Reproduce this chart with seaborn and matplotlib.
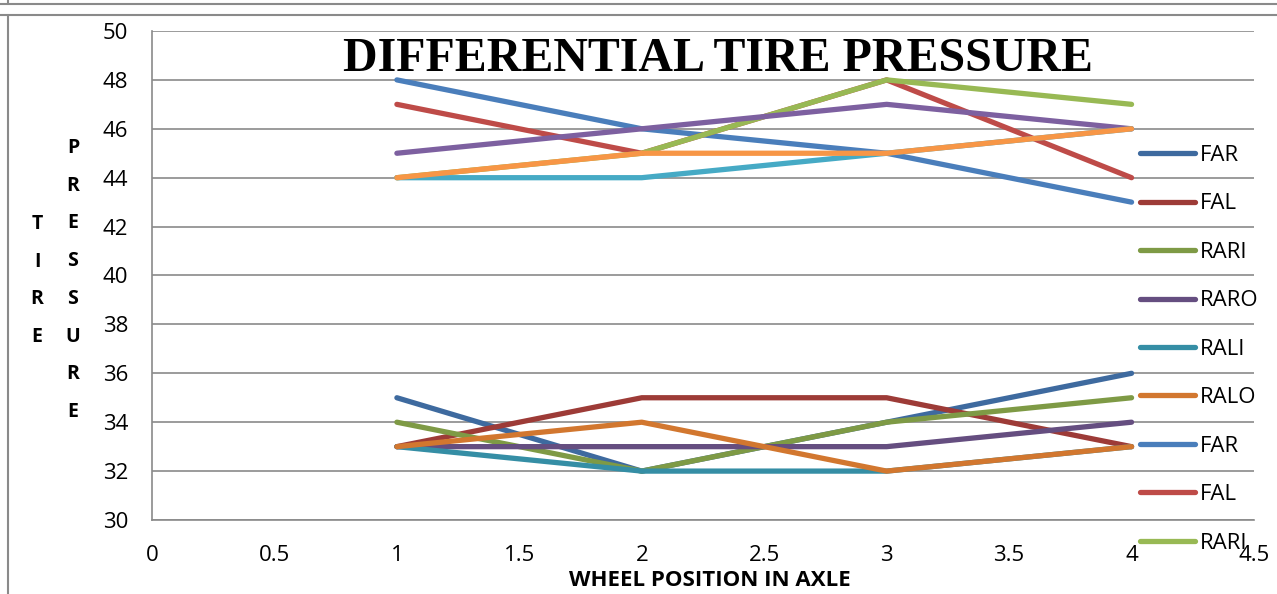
import matplotlib
matplotlib.use("Agg")
import matplotlib.pyplot as plt
import seaborn as sns
import pandas as pd
from matplotlib.lines import Line2D

sns.set_theme(style="white")
plt.rcParams['font.family'] = ['Open Sans', 'DejaVu Sans']
plt.rcParams['text.color'] = 'black'

positions = [1, 2, 3, 4]
series_names = ["FAR", "FAL", "RARI", "RARO", "RALI", "RALO",
                "FAR", "FAL", "RARI", "RARO", "RALI", "RALO"]
far_front = [35, 32, 34, 36]
fal_front = [33, 35, 35, 33]
rari_front = [34, 32, 34, 35]
raro_front = [33, 33, 33, 34]
rali_front = [33, 32, 32, 33]
ralo_front = [33, 34, 32, 33]
far_rear = [48, 46, 45, 43]
fal_rear = [47, 45, 48, 44]
rari_rear = [44, 45, 48, 47]
raro_rear = [45, 46, 47, 46]
rali_rear = [44, 44, 45, 46]
ralo_rear = [44, 45, 45, 46]
values = [far_front, fal_front, rari_front, raro_front, rali_front, ralo_front,
          far_rear, fal_rear, rari_rear, raro_rear, rali_rear, ralo_rear]
colors = ['#3E6A9F', '#9D3B37', '#7E9A45', '#654E80', '#358EA5', '#D2772F',
          '#4A7EBB', '#BE4B48', '#98B954', '#7D60A0', '#46AAC5', '#F79646']

fig = plt.figure(figsize=(12.77, 5.94), dpi=100)
ax = fig.add_axes([152/1277, 1-520/594, (1254-152)/1277, (520-31)/594])

for name, vals, c in zip(series_names, values, colors):
    df = pd.DataFrame({"x": positions, "y": vals})
    sns.lineplot(data=df, x="x", y="y", color=c, linewidth=3.8, label=name,
                 ax=ax, solid_capstyle='round', solid_joinstyle='round')

ax.set_xlim(0, 4.5)
ax.set_ylim(30, 50)
ax.set_xticks([0, 0.5, 1, 1.5, 2, 2.5, 3, 3.5, 4, 4.5])
ax.set_xticklabels(["0", "0.5", "1", "1.5", "2", "2.5", "3", "3.5", "4", "4.5"])
ax.set_yticks(range(30, 51, 2))
ax.yaxis.grid(True, color='#8a8a8a', linewidth=1.2)
ax.xaxis.grid(False)
for s in ['top', 'right']:
    ax.spines[s].set_visible(False)
for s in ['left', 'bottom']:
    ax.spines[s].set_color('#8a8a8a')
    ax.spines[s].set_linewidth(1.2)
ax.tick_params(axis='both', which='major', labelsize=16, colors='#8a8a8a',
               labelcolor='black', length=6, width=1.2, direction='out')
ax.tick_params(axis='y', pad=11)
ax.tick_params(axis='x', pad=12)
ax.set_xlabel("")
ax.set_ylabel("")

fig.text(718/1277, 1-59/594, "DIFFERENTIAL TIRE PRESSURE",
         ha='center', va='center', fontsize=34.5, fontweight='bold', color='black',
         family=['Liberation Serif', 'DejaVu Serif'])

fig.text(710/1277, 1-581/594, "WHEEL POSITION IN AXLE", ha='center', va='center',
         fontsize=16, fontweight='bold', color='black')

for i, ch in enumerate("TIRE"):
    fig.text(37/1277, 1-(224+37.7*i)/594, ch, ha='center', va='center',
             fontsize=14, fontweight='bold', color='black')
for i, ch in enumerate("PRESSURE"):
    fig.text(73/1277, 1-(148+37.7*i)/594, ch, ha='center', va='center',
             fontsize=14, fontweight='bold', color='black')

handles, labels = ax.get_legend_handles_labels()
leg = ax.legend(handles[:9], labels[:9], loc='upper left',
                bbox_to_anchor=(1140/1277, 1-145/594),
                bbox_transform=fig.transFigure, frameon=False, fontsize=16,
                handlelength=2.48, handletextpad=0.2, labelspacing=1.235,
                borderpad=0, borderaxespad=0)

frame_c = '#8a8a8a'
fig.add_artist(Line2D([0, 1], [1-4/594, 1-4/594], transform=fig.transFigure, color=frame_c, lw=1.5))
fig.add_artist(Line2D([0, 1], [1-14.5/594, 1-14.5/594], transform=fig.transFigure, color=frame_c, lw=1.5))
fig.add_artist(Line2D([8/1277, 8/1277], [0, 1-14.5/594], transform=fig.transFigure, color=frame_c, lw=1.5))
fig.add_artist(Line2D([8/1277, 8/1277], [1-4/594, 1], transform=fig.transFigure, color=frame_c, lw=1.5))

fig.savefig("out.png", dpi=100)
